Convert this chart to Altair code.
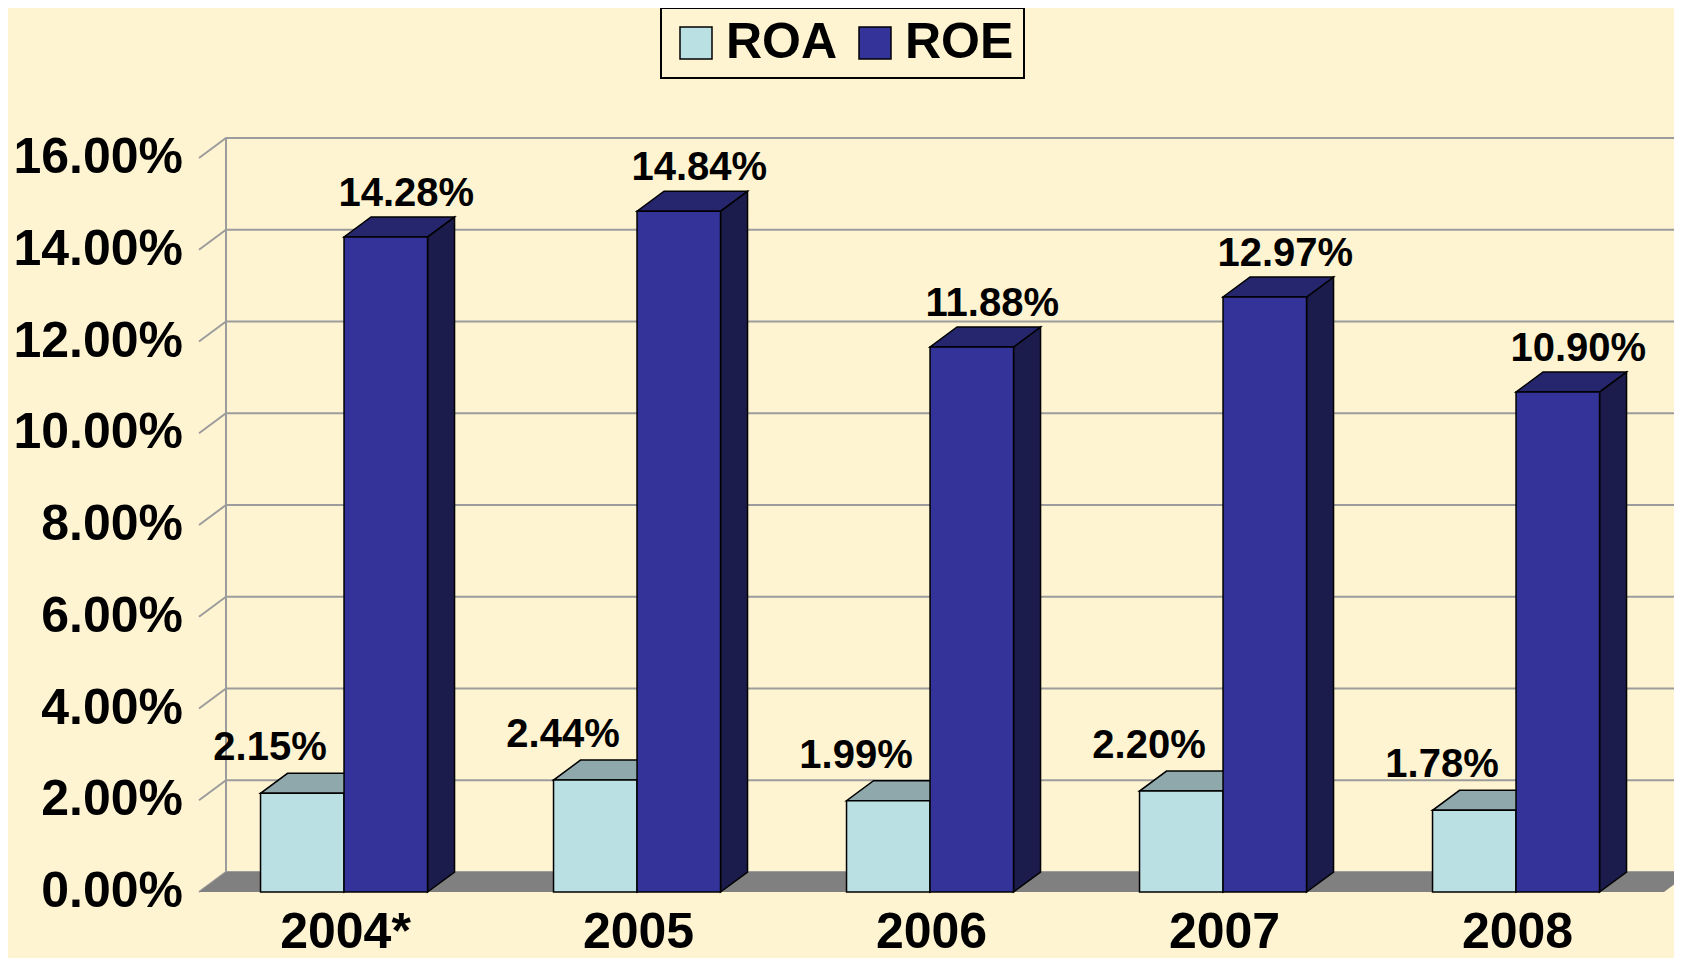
import altair as alt
import pandas as pd

# ---- data ----
years = ["2004*", "2005", "2006", "2007", "2008"]
series = ["ROA", "ROE"]
roa = [2.15, 2.44, 1.99, 2.20, 1.78]
roe = [14.28, 14.84, 11.88, 12.97, 10.90]
y_ticks = [0, 2, 4, 6, 8, 10, 12, 14, 16]

# ---- style constants ----
FONT = "Liberation Sans"
BG = "#FFF4D1"
GRID = "#9C9C9C"
FLOOR = "#808080"
FRONT = ["#BAE0E4", "#333399"]
TOP = ["#8EA8AB", "#26266F"]
SIDE = ["#6F8A8C", "#1C1C4C"]

W, H = 1465, 734
PAD = {"left": 191, "top": 150, "right": 10, "bottom": 66}
DX_PX, DY_PX = 27, 20
NCAT = len(years)
YMAX = 16
dx = DX_PX * NCAT / W
dy = DY_PX * YMAX / H
BAR_START = 0.21
BAR_W = 0.285

# ---- build geometry tables from the data ----
front_rows, top_rows, side_rows, lab_rows = [], [], [], []
for i, yr in enumerate(years):
    for j, (s, vals) in enumerate(zip(series, [roa, roe])):
        v = vals[i]
        x0 = i + BAR_START + j * BAR_W
        x1 = x0 + BAR_W
        key = f"{yr}-{s}"
        front_rows.append(dict(year=yr, series=s, x0=x0, x1=x1, value=v))
        for x, lo, hi in [(x0, v, v), (x0 + dx, v, v + dy), (x1, v, v + dy), (x1 + dx, v + dy, v + dy)]:
            top_rows.append(dict(key=key, series=s, x=x, lo=lo, hi=hi))
        for x, lo, hi in [(x1, 0.0, v), (x1 + dx, dy, v + dy)]:
            side_rows.append(dict(key=key, series=s, x=x, lo=lo, hi=hi))
        shift = 0.07 if s == "ROE" else -0.11
        lab_rows.append(dict(series=s, x=(x0 + x1) / 2 + shift, value=v))

df_front = pd.DataFrame(front_rows)
df_top = pd.DataFrame(top_rows)
df_side = pd.DataFrame(side_rows)
df_lab = pd.DataFrame(lab_rows)

grid_rows = []
for t in y_ticks:
    for k, (x, y) in enumerate([(0, t), (dx, t + dy), (NCAT + dx, t + dy)]):
        grid_rows.append(dict(tick=t, o=k, x=x, y=y))
df_grid = pd.DataFrame(grid_rows)

df_floor = pd.DataFrame([
    dict(x=0, lo=0, hi=0), dict(x=dx, lo=0, hi=dy),
    dict(x=NCAT, lo=0, hi=dy), dict(x=NCAT + dx, lo=dy, hi=dy)])
df_wall = pd.DataFrame([dict(x=dx, y=dy, y2=YMAX + dy)])
df_cat = pd.DataFrame(dict(year=years, x=[i + 0.5 for i in range(NCAT)]))
df_ytick = pd.DataFrame(dict(v=y_ticks))

xscale = alt.Scale(domain=[0, NCAT], nice=False, zero=False)
yscale = alt.Scale(domain=[0, YMAX], nice=False, zero=False)

def X(f):
    return alt.X(f, type="quantitative", scale=xscale, axis=None)

def Y(f):
    return alt.Y(f, type="quantitative", scale=yscale, axis=None, stack=None)

grid = alt.Chart(df_grid).mark_line(color=GRID, strokeWidth=2).encode(
    x=X("x"), y=Y("y"), detail="tick:N", order="o:Q")

wall = alt.Chart(df_wall).mark_rule(color=GRID, strokeWidth=2).encode(
    x=X("x"), y=Y("y"), y2="y2:Q")

floor = alt.Chart(df_floor).mark_area(color=FLOOR, opacity=1).encode(
    x=X("x"), y=Y("lo"), y2="hi:Q")

side = alt.Chart(df_side).mark_area(stroke="black", strokeWidth=1.5, opacity=1).encode(
    x=X("x"), y=Y("lo"), y2="hi:Q", detail="key:N",
    fill=alt.Fill("series:N", scale=alt.Scale(domain=series, range=SIDE), legend=None))

top = alt.Chart(df_top).mark_area(stroke="black", strokeWidth=1.5, opacity=1).encode(
    x=X("x"), y=Y("lo"), y2="hi:Q", detail="key:N",
    fill=alt.Fill("series:N", scale=alt.Scale(domain=series, range=TOP), legend=None))

front = alt.Chart(df_front).mark_rect(stroke="black", strokeWidth=1.5).encode(
    x=alt.X("x0:Q", scale=xscale, axis=alt.Axis(
        values=list(range(NCAT + 1)), labels=False, tickSize=13, tickColor="black",
        tickWidth=2, domainColor="black", domainWidth=2, grid=False, title=None, zindex=1)),
    x2="x1:Q",
    y=alt.Y("value:Q", scale=yscale, axis=alt.Axis(
        values=y_ticks, labels=False, tickSize=13, tickColor=GRID, tickWidth=2,
        domainColor=GRID, domainWidth=2, grid=False, title=None)),
    y2=alt.datum(0),
    color=alt.Color("series:N", scale=alt.Scale(domain=series, range=FRONT), legend=alt.Legend(
        title=None, orient="none", legendX=462, legendY=-150, direction="horizontal",
        labelFontSize=50, labelFontWeight="bold", labelFont=FONT, labelColor="black",
        symbolType="square", symbolSize=1024, symbolStrokeColor="black",
        symbolStrokeWidth=1.5, padding=10, strokeColor="black", fillColor=BG,
        columnPadding=12, labelOffset=5, labelLimit=0)))

# y tick labels as text on the front plane
ylabels = alt.Chart(df_ytick).transform_calculate(
    txt="format(datum.v, '.2f') + '%'"
).mark_text(fontSize=50, fontWeight="bold", font=FONT, color="black",
            baseline="middle", align="right", dx=-16).encode(
    x=alt.datum(0), y=Y("v"), text="txt:N")

def value_labels(s, ddy):
    return alt.Chart(df_lab).transform_filter(
        alt.datum.series == s
    ).transform_calculate(
        txt="format(datum.value, '.2f') + '%'"
    ).mark_text(fontSize=40, fontWeight="bold", font=FONT, color="black",
                baseline="alphabetic", align="center", dy=ddy).encode(
        x=X("x"), y=Y("value"), text="txt:N")

roa_labels = value_labels("ROA", -33)
roe_labels = value_labels("ROE", -31)

cats = alt.Chart(df_cat).mark_text(fontSize=50, fontWeight="bold", font=FONT, color="black",
                                   baseline="alphabetic", align="center", dy=56).encode(
    x=X("x"), y=alt.datum(0), text="year:N")

chart = alt.layer(grid, wall, floor, side, top, front, ylabels, roa_labels, roe_labels, cats).resolve_scale(
    fill="independent", color="independent"
).properties(
    width=W, height=H,
    autosize=alt.AutoSizeParams(type="none"),
    padding=PAD,
    background=BG,
).configure_view(strokeWidth=0).configure_legend(strokeWidth=2)

chart.save("out.html", embed_options={"renderer": "svg", "actions": False})
